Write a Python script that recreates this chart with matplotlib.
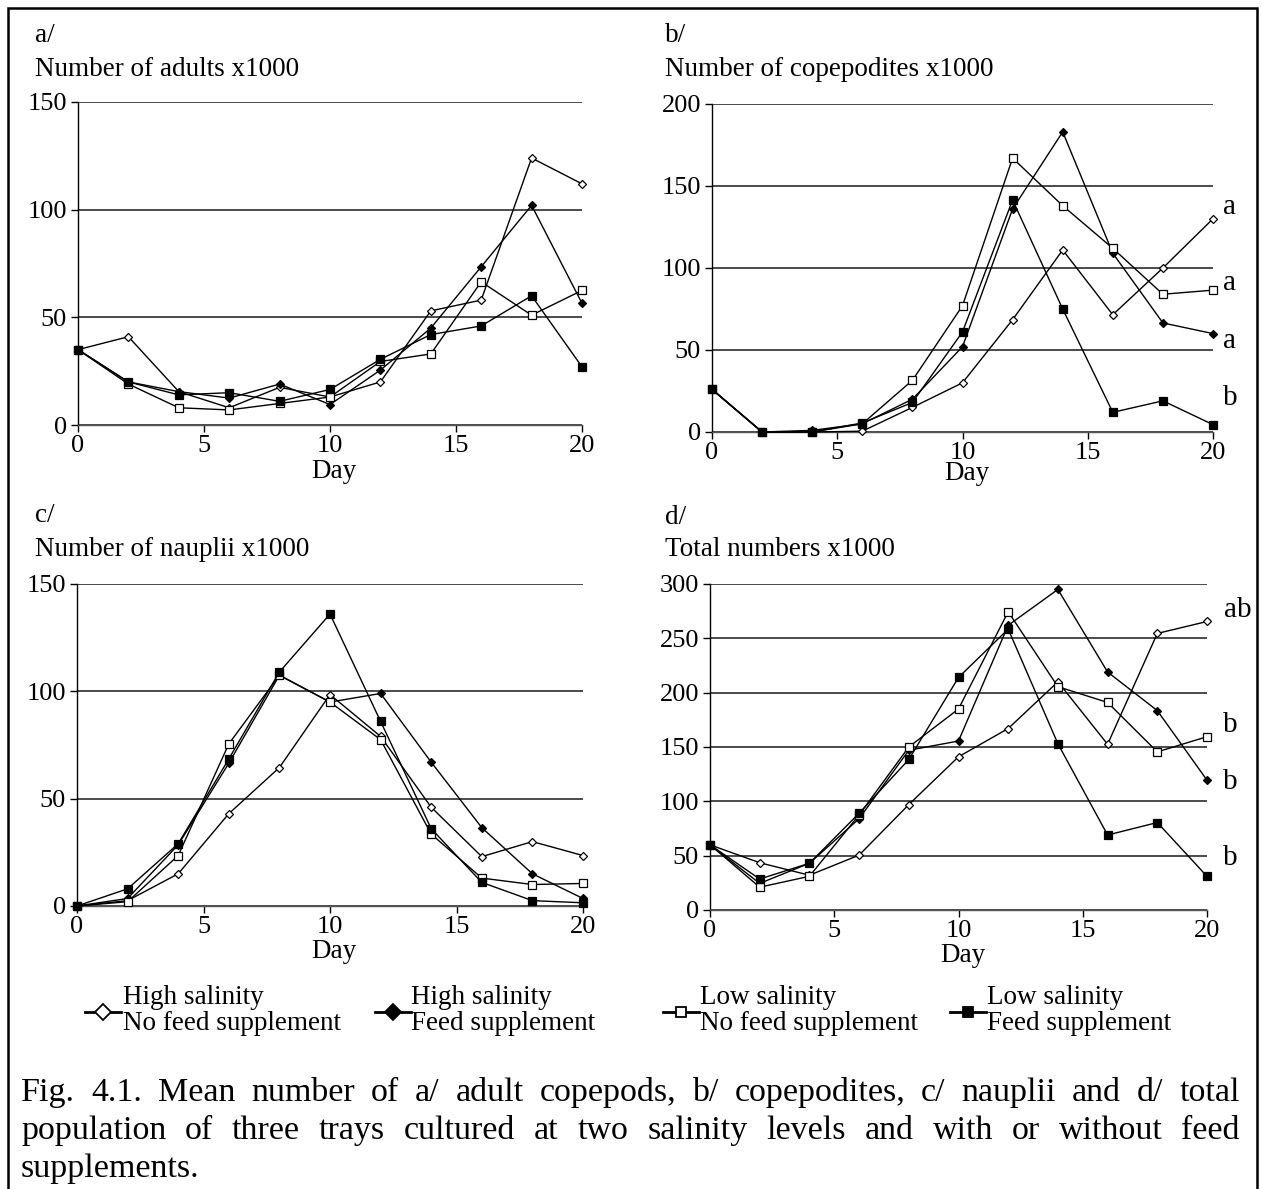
import matplotlib
matplotlib.use("Agg")
import matplotlib.pyplot as plt
from matplotlib.lines import Line2D
from matplotlib.patches import Rectangle

W, H = 1262, 1189
SERIF = ["Liberation Serif", "DejaVu Serif"]
plt.rcParams["font.family"] = SERIF

days = [0, 2, 4, 6, 8, 10, 12, 14, 16, 18, 20]

series_names = ["High salinity\nNo feed supplement", "High salinity\nFeed supplement",
                "Low salinity\nNo feed supplement", "Low salinity\nFeed supplement"]

# a/ adults (x1000)
adults_hs_nofeed = [35, 41, 15.5, 8, 17.5, 13, 20, 53, 58, 124, 112]
adults_hs_feed = [35, 20, 15.5, 12.5, 19, 9.5, 25.5, 45, 73.5, 102, 56.5]
adults_ls_nofeed = [35, 19, 8, 7, 10, 13, 29.5, 33, 66.5, 51, 62.5]
adults_ls_feed = [35, 20, 14, 15, 11, 16.5, 30.5, 42, 46, 60, 27]

# b/ copepodites (x1000)
cope_hs_nofeed = [26, 0, 0, 0.5, 15, 30, 68.5, 111, 71.5, 100, 130]
cope_hs_feed = [26, 0, 1, 5, 20, 52, 136, 183, 109, 66.5, 60]
cope_ls_nofeed = [26, 0, 0, 5, 31.5, 77, 167, 138, 112, 84, 86.5]
cope_ls_feed = [26, 0, 0, 5.5, 18, 61, 141.5, 75, 12, 19, 4.5]

# c/ nauplii (x1000)
naup_hs_nofeed = [0, 2.5, 15, 43, 64.5, 98.5, 79, 46, 23, 30, 23.5]
naup_hs_feed = [0, 3.5, 28.5, 66.5, 107.5, 95, 99, 67, 36.5, 15, 3.5]
naup_ls_nofeed = [0, 2, 23.5, 75.5, 107.5, 95, 77.5, 33.5, 13, 10, 10.5]
naup_ls_feed = [0, 8, 29, 68.5, 109, 136, 86, 36, 11, 2.5, 1.5]

# d/ total numbers (x1000)
total_hs_nofeed = [60, 43.5, 32, 50.5, 97, 141, 167, 210, 152.5, 254.5, 265.5]
total_hs_feed = [60, 24.5, 43, 84, 147, 155.5, 262, 295, 219, 183.5, 119.5]
total_ls_nofeed = [60, 21, 31, 87.5, 150, 185, 274.5, 205.5, 191, 145.5, 159.5]
total_ls_feed = [60, 28.5, 43, 89, 138.5, 214, 258.5, 153, 69, 80.5, 31]

x_ticks = [0, 5, 10, 15, 20]

panels = [
    dict(letter="a/", title="Number of adults x1000", ymax=150, yticks=[0, 50, 100, 150],
         data=[adults_hs_nofeed, adults_hs_feed, adults_ls_nofeed, adults_ls_feed],
         box=(78, 582, 102, 425), text_x=35, text_y=(35, 70), day_y=471, groups=[]),
    dict(letter="b/", title="Number of copepodites x1000", ymax=200, yticks=[0, 50, 100, 150, 200],
         data=[cope_hs_nofeed, cope_hs_feed, cope_ls_nofeed, cope_ls_feed],
         box=(712, 1213, 104, 432), text_x=665, text_y=(35, 70), day_y=474,
         groups=[("a", 1230, 207), ("a", 1230, 283), ("a", 1230, 341), ("b", 1230, 398)]),
    dict(letter="c/", title="Number of nauplii x1000", ymax=150, yticks=[0, 50, 100, 150],
         data=[naup_hs_nofeed, naup_hs_feed, naup_ls_nofeed, naup_ls_feed],
         box=(77, 583, 584, 906), text_x=35, text_y=(516, 550), day_y=952, groups=[]),
    dict(letter="d/", title="Total numbers x1000", ymax=300, yticks=[0, 50, 100, 150, 200, 250, 300],
         data=[total_hs_nofeed, total_hs_feed, total_ls_nofeed, total_ls_feed],
         box=(710, 1207, 584, 910), text_x=665, text_y=(518, 550), day_y=955,
         groups=[("ab", 1238, 610), ("b", 1230, 725), ("b", 1230, 782), ("b", 1230, 858)]),
]

# marker style per series: (marker, face colour, size)
styles = [("D", "white", 4.5), ("D", "black", 4.5), ("s", "white", 6), ("s", "black", 6)]

LABEL_FS = 19.5
TICK_FS = 19


def fx(px):
    return px / W


def fy(py):
    return 1 - py / H


fig = plt.figure(figsize=(W / 100, H / 100), dpi=100)

# outer frame
fig.patches.append(Rectangle((fx(8), fy(1195)), fx(1257) - fx(8), fy(8) - fy(1195),
                             transform=fig.transFigure, fill=False, edgecolor="black",
                             linewidth=1.8))

for p in panels:
    x0, x1, yt, yb = p["box"]
    ax = fig.add_axes([fx(x0), fy(yb), (x1 - x0) / W, (yb - yt) / H])
    for vals, (m, fc, ms) in zip(p["data"], styles):
        ax.plot(days, vals, color="black", lw=1.0, marker=m, markersize=ms,
                markerfacecolor=fc, markeredgecolor="black", markeredgewidth=0.9,
                zorder=3, clip_on=False)
    ax.set_xlim(0, 20)
    ax.set_ylim(0, p["ymax"])
    ax.set_xticks(x_ticks)
    ax.set_yticks(p["yticks"])
    ax.yaxis.grid(True, color="#1a1a1a", lw=1.1)
    ax.set_axisbelow(True)
    for s in ("top", "right"):
        ax.spines[s].set_visible(False)
    ax.spines["left"].set_linewidth(1.0)
    ax.spines["bottom"].set_color("#555555")
    ax.spines["bottom"].set_linewidth(1.0)
    ax.tick_params(direction="out", length=5, width=1, labelsize=TICK_FS, pad=2)
    ax.tick_params(axis="y", pad=3)
    ax.patch.set_alpha(0)
    fig.text(fx((x0 + x1) / 2 + 4), fy(p["day_y"]), "Day", fontsize=LABEL_FS,
             ha="center", va="center")
    fig.text(fx(p["text_x"]), fy(p["text_y"][0]), p["letter"], fontsize=LABEL_FS,
             ha="left", va="center")
    fig.text(fx(p["text_x"]), fy(p["text_y"][1]), p["title"], fontsize=LABEL_FS,
             ha="left", va="center")
    for lab, gx, gy in p["groups"]:
        fig.text(fx(gx), fy(gy), lab, fontsize=21, ha="center", va="center")

# legend
legend_pos = [(103, 123), (393, 411), (681, 700), (968, 987)]
leg_styles = [("D", "white", 8), ("D", "black", 8), ("s", "white", 6.5), ("s", "black", 7.5)]
for name, (mx, tx), (m, fc, ms) in zip(series_names, legend_pos, leg_styles):
    fig.add_artist(Line2D([fx(mx - 18), fx(mx + 18)], [fy(1012), fy(1012)],
                          transform=fig.transFigure, color="black", lw=2))
    fig.add_artist(Line2D([fx(mx)], [fy(1012)], transform=fig.transFigure,
                          marker=m, markersize=ms, markerfacecolor=fc,
                          markeredgecolor="black", markeredgewidth=1.3, lw=0))
    top, bottom = name.split("\n")
    fig.text(fx(tx), fy(998), top, fontsize=LABEL_FS, ha="left", va="center")
    fig.text(fx(tx), fy(1024), bottom, fontsize=LABEL_FS, ha="left", va="center")

# caption, justified between the margins
caption_lines = [
    ("Fig. 4.1. Mean number of a/ adult copepods, b/ copepodites, c/ nauplii and d/ total", True),
    ("population of three trays cultured at two salinity levels and with or without feed", True),
    ("supplements.", False),
]
CAP_FS = 24.5
cap_left, cap_right = 21, 1240
cap_base = [1101, 1139, 1177]
renderer = fig.canvas.get_renderer()
for (line, justify), ly in zip(caption_lines, cap_base):
    words = line.split(" ")
    texts = [fig.text(0, fy(ly), w, fontsize=CAP_FS, ha="left", va="baseline")
             for w in words]
    widths = [t.get_window_extent(renderer).width for t in texts]
    if justify and len(words) > 1:
        gap = (cap_right - cap_left - sum(widths)) / (len(words) - 1)
    else:
        gap = 0.25 * CAP_FS * 100 / 72
    x = cap_left
    for t, w in zip(texts, widths):
        t.set_x(fx(x))
        x += w + gap

fig.savefig("out.png", dpi=100)
